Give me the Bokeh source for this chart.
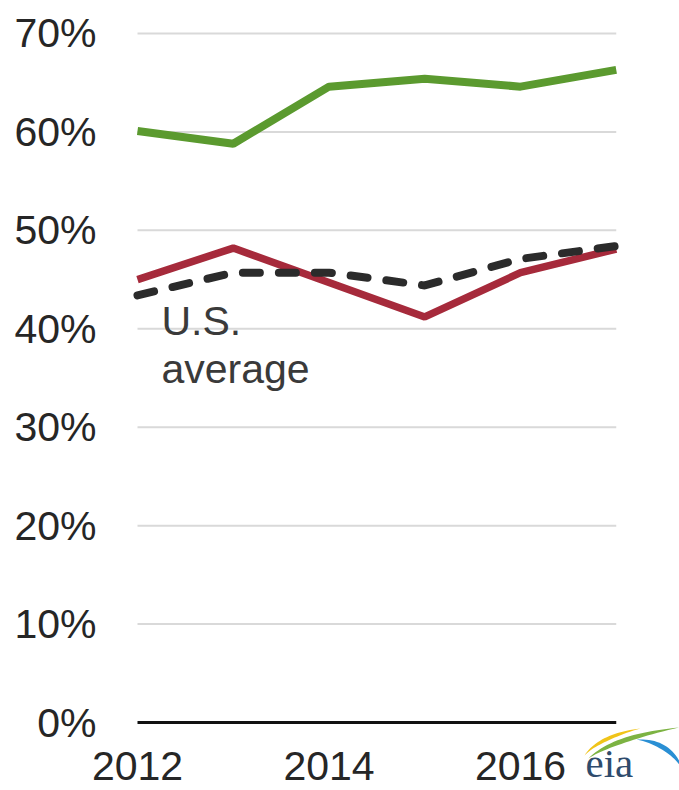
import numpy as np
from bokeh.plotting import figure
from bokeh.models import (FixedTicker, PrintfTickFormatter, Range1d, Label,
                          PolyAnnotation)
from bokeh.embed import file_html
from bokeh.resources import INLINE

# ---- data ----
years = [2012, 2013, 2014, 2015, 2016, 2017]
green_series = [60.1, 58.8, 64.6, 65.4, 64.6, 66.3]
red_series = [45.0, 48.2, 44.7, 41.2, 45.7, 48.1]
us_average = [43.4, 45.7, 45.7, 44.4, 47.1, 48.4]
y_ticks = [0, 10, 20, 30, 40, 50, 60, 70]
x_ticks = [2012, 2014, 2016]

W, H = 679, 790
X0_PX = 137
px_per_year = 95.75
px_per_unit = 9.843
Y0_PX = 722
x_start = 2012 - X0_PX / px_per_year
x_end = 2012 + (W - X0_PX) / px_per_year
y_end = Y0_PX / px_per_unit
y_start = -(H - Y0_PX) / px_per_unit

p = figure(width=W, height=H, output_backend="svg", toolbar_location=None,
           x_range=Range1d(x_start, x_end), y_range=Range1d(y_start, y_end),
           min_border_left=0, min_border_right=0, min_border_top=0,
           min_border_bottom=0)
p.outline_line_color = None
p.xgrid.visible = False
p.ygrid.visible = False
p.background_fill_color = "white"
p.border_fill_color = "white"

# axes (placed at fixed data locations inside the frame)
for ax in (p.xaxis[0], p.yaxis[0]):
    ax.axis_line_color = None
    ax.major_tick_line_color = None
    ax.minor_tick_line_color = None
    ax.major_label_text_font = "Liberation Sans"
    ax.major_label_text_font_size = "41px"
    ax.major_label_text_color = "#262626"
p.yaxis[0].ticker = FixedTicker(ticks=y_ticks)
p.yaxis[0].formatter = PrintfTickFormatter(format="%d%%")
p.yaxis[0].fixed_location = years[0]
p.yaxis[0].major_label_standoff = 35
p.xaxis[0].ticker = FixedTicker(ticks=x_ticks)
p.xaxis[0].fixed_location = 0
p.xaxis[0].major_label_standoff = 23

# gridlines (only across the data years)
grid_y = [t for t in y_ticks if t != 0]
p.segment(x0=[years[0]] * len(grid_y), x1=[years[-1]] * len(grid_y),
          y0=grid_y, y1=grid_y, line_color="#d9d9d9", line_width=2)
p.segment(x0=[years[0]], x1=[years[-1]], y0=[0], y1=[0],
          line_color="#111111", line_width=3)

# data lines
p.line(years, green_series, line_color="#5b9a2f", line_width=8)
p.line(years, red_series, line_color="#a62a3b", line_width=7.5)
p.line(years, us_average, line_color="#2b2b2b", line_width=8,
       line_dash="17 19", line_cap="round")


def to_x(px):
    return 2012 + (px - X0_PX) / px_per_year


def to_y(py):
    return (Y0_PX - py) / px_per_unit


# label
for txt, base_px in (("U.S.", 320), ("average", 368)):
    p.add_layout(Label(x=to_x(161), y=to_y(base_px),
                       text=txt, text_font="Liberation Sans",
                       text_font_size="41px", text_color="#3a3a3a",
                       text_baseline="alphabetic"))

# eia logo (decoration)
p.add_layout(Label(x=to_x(585), y=to_y(762), text="eia",
                   text_font="Liberation Serif", text_font_size="41px",
                   text_color="#2f4b6c", text_baseline="alphabetic"))


def swoosh(p0, p1, p2, w):
    t = np.linspace(0, 1, 24)
    bx = (1 - t) ** 2 * p0[0] + 2 * (1 - t) * t * p1[0] + t ** 2 * p2[0]
    by = (1 - t) ** 2 * p0[1] + 2 * (1 - t) * t * p1[1] + t ** 2 * p2[1]
    th = w * np.sin(np.pi * t)
    xs = list(bx) + list(bx[::-1])
    ys = list(by) + list((by + th)[::-1])
    return [to_x(v) for v in xs], [to_y(v) for v in ys]


for (a, b, c, w, col) in (((584, 755), (598, 733), (640, 728), 4, "#f0c419"),
                          ((588, 758), (612, 733), (679, 727), 5, "#7cb342"),
                          ((636, 739), (674, 737), (684, 774), 6, "#2a8fd4")):
    xs, ys = swoosh(a, b, c, w)
    p.add_layout(PolyAnnotation(xs=xs, ys=ys, fill_color=col, fill_alpha=1.0,
                                line_color=None))

open("out.html", "w").write(file_html(p, INLINE))
